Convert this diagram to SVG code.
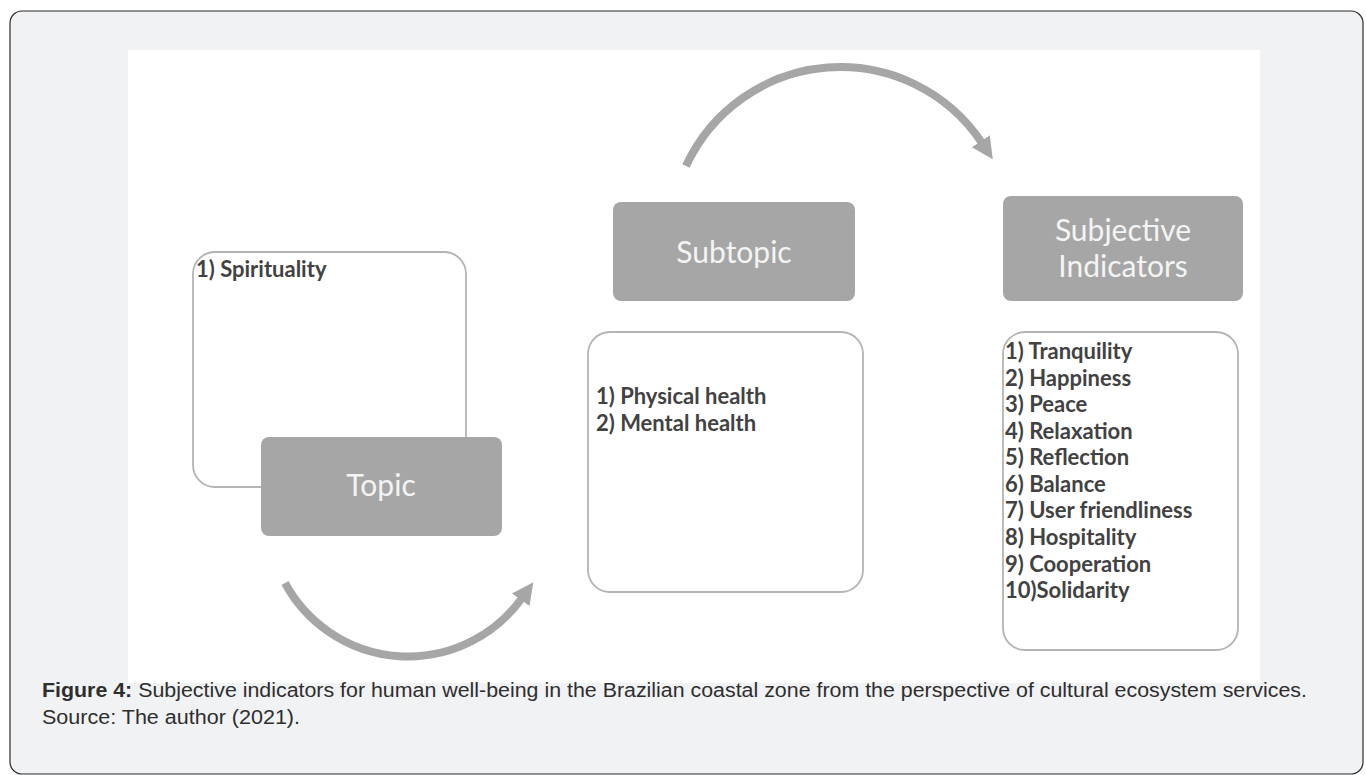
<svg xmlns="http://www.w3.org/2000/svg" width="1366" height="775" viewBox="0 0 1366 775">
<defs>
<style>
.frame{fill:#f1f2f4;stroke:#2b2b2b;stroke-width:1.2}
.panel{fill:#ffffff}
.list{fill:#ffffff;stroke:#b4b4b4;stroke-width:1.8}
.head{fill:#a6a6a6}
.htxt{font-family:Lato,"Open Sans",sans-serif;font-size:30px;fill:#f4f4f4;text-anchor:middle}
.ltxt{font-family:Lato,"Open Sans",sans-serif;font-size:22px;font-weight:bold;fill:#424242}
.cap{font-family:"Liberation Sans",Arial,sans-serif;font-size:20px;fill:#2e2e2e}
.arc{fill:none;stroke:#a6a6a6;stroke-width:8}
</style>
<marker id="ah" viewBox="0 0 10 10" refX="1" refY="5" markerWidth="2.7" markerHeight="3.1" orient="auto" markerUnits="strokeWidth">
<path d="M0,0 L10,5 L0,10 z" fill="#a6a6a6"/>
</marker>
</defs>
<rect class="frame" x="10" y="11" width="1353" height="763" rx="12"/>
<rect class="panel" x="128" y="50" width="1132" height="633"/>
<g id="connectors">
<path class="arc" d="M686,166 A170,170 0 0,1 982,143" marker-end="url(#ah)"/>
<path class="arc" d="M285,583 A140,140 0 0,0 522,598" marker-end="url(#ah)"/>
</g>
<g id="topic-list">
<rect class="list" x="193" y="252" width="273" height="235" rx="22"/>
<text class="ltxt" x="196" y="277">1) Spirituality</text>
</g>
<g id="topic">
<rect class="head" x="261" y="437" width="241" height="99" rx="8"/>
<text class="htxt" x="381" y="496">Topic</text>
</g>
<g id="subtopic">
<rect class="head" x="613" y="202" width="242" height="99" rx="8"/>
<text class="htxt" x="734" y="263">Subtopic</text>
</g>
<g id="subtopic-list">
<rect class="list" x="588" y="332" width="275" height="260" rx="22"/>
<text class="ltxt" x="596" y="404">1) Physical health</text>
<text class="ltxt" x="596" y="431">2) Mental health</text>
</g>
<g id="indicators">
<rect class="head" x="1003" y="196" width="240" height="105" rx="8"/>
<text class="htxt" x="1123" y="241">Subjective</text>
<text class="htxt" x="1123" y="277">Indicators</text>
</g>
<g id="indicators-list">
<rect class="list" x="1003" y="332" width="235" height="318" rx="22"/>
<text class="ltxt" x="1005" y="359">1) Tranquility</text>
<text class="ltxt" x="1005" y="386">2) Happiness</text>
<text class="ltxt" x="1005" y="412">3) Peace</text>
<text class="ltxt" x="1005" y="439">4) Relaxation</text>
<text class="ltxt" x="1005" y="465">5) Reflection</text>
<text class="ltxt" x="1005" y="492">6) Balance</text>
<text class="ltxt" x="1005" y="518">7) User friendliness</text>
<text class="ltxt" x="1005" y="545">8) Hospitality</text>
<text class="ltxt" x="1005" y="572">9) Cooperation</text>
<text class="ltxt" x="1005" y="598">10)Solidarity</text>
</g>
<g id="caption">
<text class="cap" x="42" y="697" textLength="1265" lengthAdjust="spacingAndGlyphs"><tspan font-weight="bold">Figure 4:</tspan> Subjective indicators for human well-being in the Brazilian coastal zone from the perspective of cultural ecosystem services.</text>
<text class="cap" x="42" y="724" textLength="258" lengthAdjust="spacingAndGlyphs">Source: The author (2021).</text>
</g>
</svg>
